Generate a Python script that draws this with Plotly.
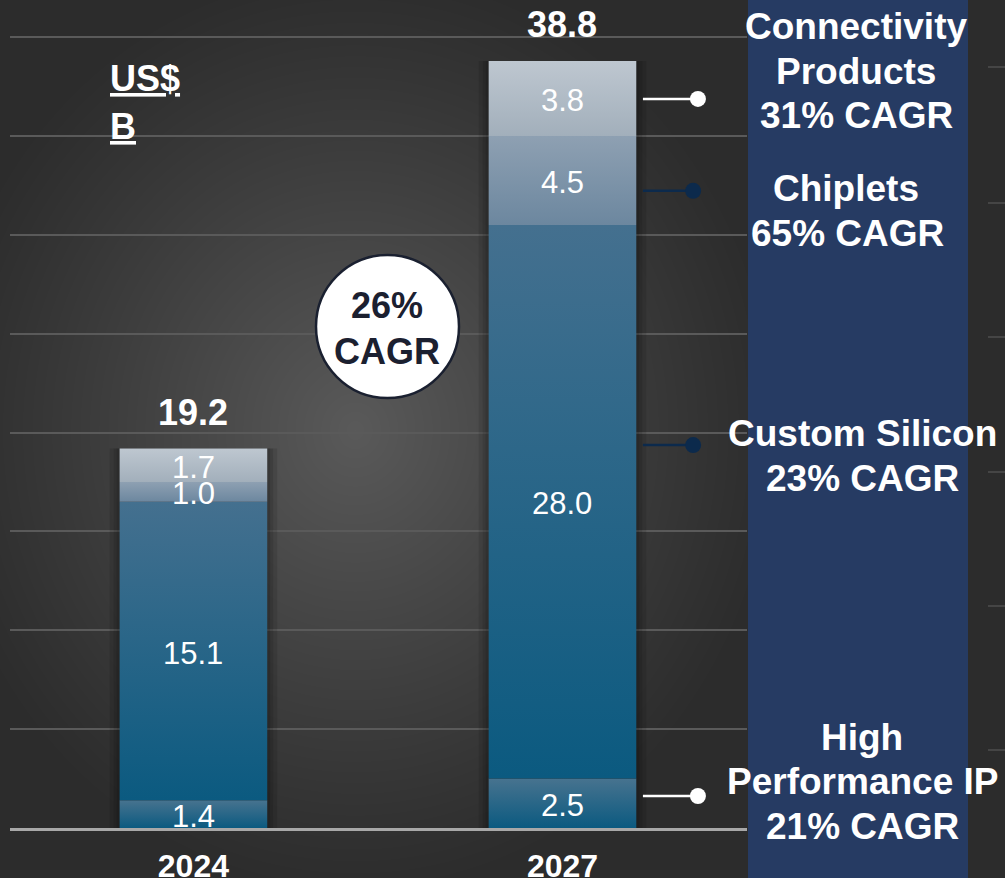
import base64
import struct
import zlib

import numpy as np
import plotly.graph_objects as go

# ---------------------------------------------------------------- data
years = ["2024", "2027"]
segments = ["High Performance IP", "Custom Silicon", "Chiplets", "Connectivity Products"]
high_perf_ip = [1.4, 2.5]
custom_silicon = [15.1, 28.0]
chiplets = [1.0, 4.5]
connectivity = [1.7, 3.8]
series_values = [high_perf_ip, custom_silicon, chiplets, connectivity]
totals = [19.2, 38.8]

segment_cagr = ["21% CAGR", "23% CAGR", "65% CAGR", "31% CAGR"]
overall_cagr = "26%"

# vertical gradient per segment: (bottom colour, top colour)
segment_colors = [
    ("#0b5a80", "#47738f"),
    ("#0b5a80", "#44708f"),
    ("#6c879f", "#8ea0b2"),
    ("#a2afbb", "#bec7d0"),
]

# y value where each callout line meets the 2027 bar
callout_y = [1.62, 19.37, 32.23, 36.88]
callout_dot = ["white", "#0c2a4c", "#0c2a4c", "white"]

# ---------------------------------------------------------------- page geometry
W, H = 1005, 878
MB = 50                      # bottom margin under the baseline
PLOT_H = H - MB
Y_TOP = 41.885               # value at the very top of the plot area
X_RANGE = [-0.497, 1.5]
BAR_HALF = 0.2
FONT = "Liberation Sans, Arial, sans-serif"


def png_data_uri(rgb):
    h, w, _ = rgb.shape
    raw = np.concatenate([np.zeros((h, 1), np.uint8), rgb.reshape(h, w * 3)], axis=1)

    def chunk(tag, data):
        return (struct.pack(">I", len(data)) + tag + data
                + struct.pack(">I", zlib.crc32(tag + data) & 0xFFFFFFFF))

    png = (b"\x89PNG\r\n\x1a\n"
           + chunk(b"IHDR", struct.pack(">IIBBBBB", w, h, 8, 2, 0, 0, 0))
           + chunk(b"IDAT", zlib.compress(raw.tobytes(), 9))
           + chunk(b"IEND", b""))
    return "data:image/png;base64," + base64.b64encode(png).decode()


# soft radial backdrop, lighter behind the bars
yy, xx = np.mgrid[0:H, 0:W].astype(float)
r = np.sqrt(((xx - 355) / 430) ** 2 + ((yy - 430) / 470) ** 2)
r = np.clip(r, 0, 1)
shade = 44 + 46 * (1 - r) ** 1.1
backdrop = np.repeat(shade[:, :, None], 3, axis=2).astype(np.uint8)
backdrop_uri = png_data_uri(backdrop)

fig = go.Figure()

# stacked segments, each filled with its own vertical gradient
xpos = list(range(len(years)))
for s_idx, vals in enumerate(series_values):
    bottom_c, top_c = segment_colors[s_idx]
    for i, v in enumerate(vals):
        base = sum(series_values[k][i] for k in range(s_idx))
        top = base + v
        fig.add_trace(go.Scatter(
            x=[xpos[i] - BAR_HALF, xpos[i] + BAR_HALF, xpos[i] + BAR_HALF,
               xpos[i] - BAR_HALF, xpos[i] - BAR_HALF],
            y=[base, base, top, top, base],
            mode="lines", line=dict(width=0), fill="toself",
            fillcolor=top_c,
            fillgradient=dict(type="vertical",
                              colorscale=[[0, bottom_c], [1, top_c]]),
            hoverinfo="skip", name=segments[s_idx],
        ))

annotations = []

# value labels in the middle of each segment
for i in range(len(years)):
    base = 0.0
    for vals in series_values:
        annotations.append(dict(
            text=f"{vals[i]:.1f}", x=xpos[i], y=base + vals[i] / 2,
            xref="x", yref="y", yanchor="middle", yshift=-2, showarrow=False,
            font=dict(family=FONT, size=31, color="white"),
        ))
        base += vals[i]

shapes = []

# drop shadow around each bar
for i, tot in enumerate(totals):
    for k in (3, 6, 10):
        d = k / 369
        shapes.append(dict(
            type="rect", xref="x", yref="y", layer="between",
            x0=xpos[i] - BAR_HALF - d, x1=xpos[i] + BAR_HALF + d,
            y0=0, y1=tot,
            fillcolor="black", opacity=0.10, line=dict(width=0),
        ))

# right-hand navy panel
shapes.append(dict(
    type="rect", xref="paper", yref="paper", layer="below",
    x0=748 / W, x1=968 / W, y0=-MB / PLOT_H, y1=1.0,
    fillcolor="#263b63", line=dict(width=0),
))

# faint rule ends beyond the panel
for py in (67, 203, 337, 472, 606, 750):
    yp = (PLOT_H - py) / PLOT_H
    shapes.append(dict(
        type="line", xref="paper", yref="paper", layer="below",
        x0=988 / W, x1=1.0, y0=yp, y1=yp,
        line=dict(color="#4e4e4e", width=1.5),
    ))

# callout lines and dots from the 2027 bar
for cy, cdot in zip(callout_y, callout_dot):
    dot_x = 1.367 if cdot == "white" else 1.354
    shapes.append(dict(
        type="line", xref="x", yref="y", x0=1.218, x1=dot_x, y0=cy, y1=cy,
        line=dict(color=cdot, width=2.5),
    ))
    shapes.append(dict(
        type="circle", xref="x", yref="y", xsizemode="pixel", ysizemode="pixel",
        xanchor=dot_x, yanchor=cy, x0=-8, x1=8, y0=-8, y1=8,
        fillcolor=cdot, line=dict(width=0),
    ))

# overall CAGR badge
shapes.append(dict(
    type="circle", xref="paper", yref="paper", xsizemode="pixel", ysizemode="pixel",
    xanchor=387.5 / W, yanchor=(PLOT_H - 326.5) / PLOT_H,
    x0=-71.5, x1=71.5, y0=-71.5, y1=71.5,
    fillcolor="white", line=dict(color="#1a2030", width=2.5),
))


def px_note(text, cx, cy, size, color="white", weight="bold", xanchor="center",
            underline=False):
    font = dict(family=FONT, size=size, color=color, weight=weight)
    if underline:
        font["lineposition"] = "under"
    annotations.append(dict(
        text=text, xref="paper", yref="paper",
        x=cx / W, y=(PLOT_H - cy) / PLOT_H,
        xanchor=xanchor, yanchor="middle", showarrow=False, font=font,
    ))


# bar totals
for i, tot in enumerate(totals):
    annotations.append(dict(
        text=f"{tot:.1f}", x=xpos[i], y=tot, xref="x", yref="y",
        yanchor="middle", yshift=36, showarrow=False,
        font=dict(family=FONT, size=36, color="white", weight="bold"),
    ))

# unit label
px_note("US$", 108, 79, 36, xanchor="left", underline=True)
px_note("B", 108, 126, 36, xanchor="left", underline=True)

# badge text
px_note(overall_cagr, 387, 305, 36, color="#1b2030")
px_note("CAGR", 387, 351, 36, color="#1b2030")

# panel captions
px_note("Connectivity", 856, 26, 37)
px_note("Products", 856, 71, 37)
px_note(segment_cagr[3], 856, 116, 37)
px_note("Chiplets", 846, 188, 37)
px_note(segment_cagr[2], 847, 233, 37)
px_note("Custom Silicon", 862, 433, 37)
px_note(segment_cagr[1], 862, 478, 37)
px_note("High", 862, 737, 37)
px_note("Performance IP", 862, 781, 37)
px_note(segment_cagr[0], 862, 826, 37)

fig.update_layout(
    width=W, height=H,
    margin=dict(l=0, r=0, t=0, b=MB, autoexpand=False),
    paper_bgcolor="#2c2c2c", plot_bgcolor="rgba(0,0,0,0)",
    showlegend=False,
    shapes=shapes, annotations=annotations,
    images=[dict(
        source=backdrop_uri, xref="paper", yref="paper",
        x=0, y=1, sizex=1, sizey=H / PLOT_H,
        xanchor="left", yanchor="top", sizing="stretch", layer="below",
    )],
    xaxis=dict(
        domain=[10 / W, 747 / W], range=X_RANGE, tickvals=xpos, ticktext=years,
        showgrid=False, zeroline=False, ticks="", automargin=False,
        showline=True, linecolor="#a8a8a8", linewidth=3,
        tickfont=dict(family=FONT, size=32, color="white", weight="bold"),
        ticklabelstandoff=8, fixedrange=True,
    ),
    yaxis=dict(
        range=[0, Y_TOP], dtick=5, showticklabels=False, ticks="",
        showgrid=True, gridcolor="#5a5a5a", gridwidth=1.5, automargin=False,
        zeroline=False, fixedrange=True,
    ),
)

fig.write_html("out.html")
